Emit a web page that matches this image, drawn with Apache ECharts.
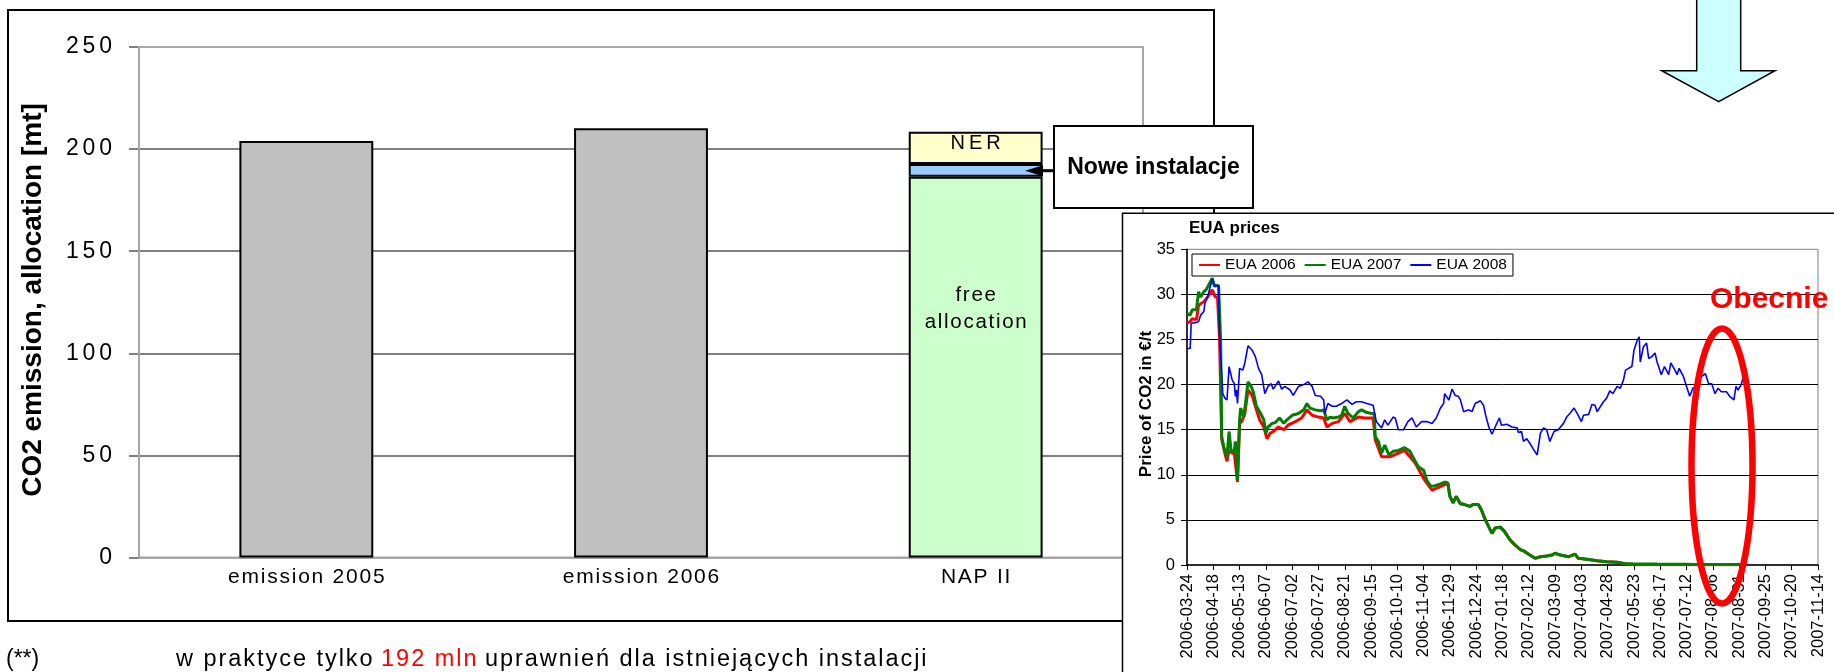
<!DOCTYPE html>
<html><head><meta charset="utf-8">
<script src="https://cdn.jsdelivr.net/npm/echarts@6/dist/echarts.min.js"></script>
<style>html,body{margin:0;padding:0;background:#fff;}#c{width:1834px;height:672px;}</style>
</head><body><div id="c"></div>
<script>
// ---------- main bar chart data ----------
const categories = ['emission 2005', 'emission 2006', 'NAP II'];
const emissionValues = [204, 210.2, '-'];
const freeAllocation = ['-', '-', 186.5];
const newInstallations = ['-', '-', 6.2];
const nerReserve = ['-', '-', 15.8];
const mainAxisTicks = [0, 50, 100, 150, 200, 250];

// ---------- EUA prices inset (x = days since 2006-03-24) ----------
const priceStartDate = '2006-03-24';
const dateTickLabels = ['2006-03-24','2006-04-18','2006-05-13','2006-06-07','2006-07-02','2006-07-27','2006-08-21','2006-09-15','2006-10-10','2006-11-04','2006-11-29','2006-12-24','2007-01-18','2007-02-12','2007-03-09','2007-04-03','2007-04-28','2007-05-23','2007-06-17','2007-07-12','2007-08-06','2007-08-31','2007-09-25','2007-10-20','2007-11-14'];
const priceTicks = [0, 5, 10, 15, 20, 25, 30, 35];

const eua2006Days = [0,3,5,9,11,16,19,24,27,29,31,33,36,38,40,43,45,48,50,52,55,58,62,65,69,73,76,79,82,87,92,96,103,109,114,119,125,130,133,138,144,150,155,163,169,177,179,185,193,201,207,217,226,233,241,245,248,250,253,256,260,264,269,272,277,280,283,287,290,293,298,302,307,312,317,321,326,331,336,342,347,350,355,363,369,372,380,390,399,409,415,421,450,490,526];
const eua2006Prices = [26.8,27.0,27.3,27.2,28.8,29.2,29.6,30.5,29.7,29.7,24.9,13.9,12.4,11.5,12.7,12.4,12.4,9.2,15.7,15.9,16.8,19.4,18.8,17.6,16.1,15.3,14.0,14.6,14.8,15.3,15.0,15.5,15.9,16.3,17.2,16.6,16.4,16.3,15.3,15.7,15.9,16.8,15.9,16.4,16.3,16.3,13.9,12.0,12.0,12.4,12.7,11.3,9.4,8.3,8.7,8.9,9.1,7.6,6.9,7.6,6.8,6.7,6.5,6.7,6.7,6.1,5.2,4.2,3.5,4.1,4.2,3.7,2.8,2.2,1.7,1.5,1.1,0.74,0.92,1.0,1.1,1.3,1.1,0.92,1.2,0.74,0.63,0.48,0.37,0.3,0.18,0.02,0.02,0.02,0.02];

const eua2007Days = [0,3,5,9,11,13,16,18,20,24,26,28,30,32,33,35,38,40,42,45,46,48,50,51,54,56,58,61,63,66,70,73,75,77,81,84,88,92,95,100,106,111,114,117,122,127,130,133,136,139,144,147,150,153,158,163,166,171,176,178,179,182,185,188,192,196,201,207,212,217,220,225,228,232,236,241,245,248,250,253,256,260,264,269,272,277,280,283,287,290,293,298,302,307,312,317,321,326,331,336,342,347,350,355,363,369,372,380,390,399,409,415,424,447,478,526];
const eua2007Prices = [27.9,27.7,28.3,28.3,30.3,29.7,30.3,30.5,30.9,31.8,30.9,31.0,31.0,24.9,14.2,13.1,12.0,14.8,12.6,12.7,13.7,9.4,16.1,17.4,16.4,18.3,20.3,19.8,19.2,17.6,16.8,16.1,14.6,15.3,15.7,15.8,16.3,15.7,16.1,16.6,16.8,17.2,17.9,17.4,17.2,17.1,17.2,16.1,16.4,16.3,16.4,16.6,17.6,16.8,16.3,17.0,17.2,16.9,16.8,16.8,14.2,13.7,12.4,13.3,12.2,12.6,12.7,13.0,12.6,11.5,10.9,10.5,9.4,8.7,8.8,9.0,9.2,9.1,7.6,6.9,7.6,6.8,6.7,6.5,6.7,6.7,6.1,5.2,4.2,3.5,4.1,4.2,3.7,2.8,2.2,1.7,1.5,1.1,0.74,0.92,1.0,1.1,1.3,1.1,0.92,1.2,0.74,0.63,0.48,0.37,0.3,0.18,0.15,0.1,0.07,0.05];

const eua2008Days = [0,3,4,9,11,13,16,17,20,24,27,30,31,34,36,38,40,43,45,46,47,48,50,53,55,58,62,65,68,71,74,77,80,82,87,90,93,98,101,106,111,115,119,122,127,130,131,134,138,142,147,152,157,161,166,171,177,180,185,188,191,196,198,201,206,210,214,218,223,228,233,237,241,244,245,249,252,255,258,260,263,268,271,274,279,282,284,287,290,293,297,299,304,309,314,315,318,320,323,326,329,333,336,339,342,345,349,353,358,361,364,368,371,375,377,382,385,388,390,396,399,402,405,409,412,415,417,423,425,428,430,431,434,437,439,442,445,447,451,454,458,460,464,466,468,472,475,478,481,485,489,493,496,499,502,505,508,513,516,520,522,524,527,529];
const eua2008Prices = [24.0,24.0,26.8,26.9,27.0,27.7,28.1,29.0,29.9,31.7,30.9,30.9,25.3,19.0,18.5,18.3,22.0,20.5,20.1,18.7,19.4,17.9,21.8,21.6,22.4,24.3,23.8,23.1,21.8,21.1,19.0,19.8,20.1,19.5,20.4,19.5,19.8,19.4,18.8,19.8,20.0,20.3,19.8,18.8,18.7,18.3,16.8,17.9,17.6,17.6,17.9,18.3,17.8,18.1,18.1,17.9,17.7,15.9,15.2,16.1,15.5,16.4,16.3,15.0,15.0,15.9,16.3,15.3,15.9,15.9,15.7,16.3,17.4,17.9,19.0,18.3,19.5,18.8,18.7,18.3,17.0,17.2,17.0,17.9,18.2,17.7,16.6,15.3,14.5,15.3,16.3,15.5,15.6,15.3,15.2,14.7,14.8,13.7,14.0,13.5,12.9,12.2,14.6,15.2,15.0,13.7,14.8,15.0,15.7,16.4,16.8,17.4,16.8,15.9,16.6,16.7,17.8,17.7,17.0,18.1,18.5,19.3,19.0,19.8,19.6,20.5,21.6,22.0,23.8,24.9,25.3,22.5,24.2,24.6,22.9,23.1,23.5,22.5,21.1,22.0,21.1,22.4,21.6,21.1,21.8,20.9,19.8,18.7,19.6,19.8,20.9,21.2,20.1,20.1,19.0,19.6,19.2,19.2,18.7,18.3,19.8,19.4,20.0,20.9];

// ---------- helpers ----------
const HAIR = '\u200A', THIN = '\u2009';
const FONT = '"Liberation Sans", Arial, Helvetica, sans-serif';
function spaced(s, sp) { return String(s).split('').join(sp || HAIR); }
function zip(xs, ys) { return xs.map((x, i) => [x, ys[i]]); }
const startMs = Date.parse(priceStartDate + 'T00:00:00Z');
function dayToLabel(d) {
  const s = new Date(startMs + Math.round(d) * 86400000).toISOString().slice(0, 10);
  return dateTickLabels.indexOf(s) >= 0 ? s : '';
}

const chart = echarts.init(document.getElementById('c'), null, {renderer: 'canvas', devicePixelRatio: 1});

const option = {
  animation: false,
  backgroundColor: '#ffffff',
  textStyle: {fontFamily: FONT, color: '#000'},
  grid: [
    {left: 139, top: 47, width: 1004, height: 510.5, show: true, borderColor: '#a6a6a6', borderWidth: 2, backgroundColor: 'transparent', z: 2},
    {left: 1187, top: 249.3, width: 631, height: 315.7, show: true, borderColor: '#808080', borderWidth: 1, backgroundColor: 'transparent', z: 4}
  ],
  legend: {
    data: ['EUA 2006', 'EUA 2007', 'EUA 2008'],
    left: 1192, top: 254, orient: 'horizontal',
    padding: [3, 6, 3, 6], itemGap: 8, itemWidth: 21, itemHeight: 14,
    borderColor: '#000', borderWidth: 1, backgroundColor: '#fff',
    itemStyle: {opacity: 0, borderWidth: 0},
    textStyle: {fontSize: 15.5, color: '#000', fontFamily: FONT},
    z: 6
  },
  xAxis: [
    {type: 'category', gridIndex: 0, data: categories,
      axisLine: {lineStyle: {color: '#a6a6a6', width: 2}},
      axisTick: {show: false},
      axisLabel: {fontSize: 21, color: '#000', margin: 9, interval: 0, formatter: v => spaced(v, HAIR)},
      splitLine: {show: false}},
    {type: 'value', gridIndex: 1, min: 0, max: 600, interval: 25, z: 4,
      axisLine: {onZero: false, lineStyle: {color: '#000', width: 1.5}},
      axisTick: {show: true, length: 5, lineStyle: {color: '#000', width: 1}},
      axisLabel: {rotate: 90, fontSize: 16.5, color: '#000', margin: 9, formatter: dayToLabel, showMinLabel: true, showMaxLabel: true},
      splitLine: {show: false}}
  ],
  yAxis: [
    {type: 'value', gridIndex: 0, min: mainAxisTicks[0], max: mainAxisTicks[mainAxisTicks.length - 1], interval: mainAxisTicks[1] - mainAxisTicks[0],
      axisLine: {show: true, lineStyle: {color: '#808080', width: 2}},
      axisTick: {show: true, length: 10, lineStyle: {color: '#808080', width: 2}},
      axisLabel: {fontSize: 23, color: '#000', margin: 27, formatter: v => spaced(v, HAIR + HAIR)},
      splitLine: {show: true, showMinLine: false, showMaxLine: false, lineStyle: {color: '#808080', width: 2}}},
    {type: 'value', gridIndex: 1, min: priceTicks[0], max: priceTicks[priceTicks.length - 1], interval: priceTicks[1] - priceTicks[0], z: 4,
      axisLine: {show: true, lineStyle: {color: '#000', width: 1.5}},
      axisTick: {show: true, length: 6, lineStyle: {color: '#000', width: 1}},
      axisLabel: {fontSize: 16.5, color: '#000', margin: 12},
      splitLine: {show: true, showMinLine: false, showMaxLine: false, lineStyle: {color: '#000', width: 1}}}
  ],
  series: [
    {type: 'bar', name: 'emission', xAxisIndex: 0, yAxisIndex: 0, stack: 'nap', data: emissionValues,
      barCategoryGap: '60%', itemStyle: {color: '#C0C0C0', borderColor: '#000', borderWidth: 2}},
    {type: 'bar', name: 'free allocation', xAxisIndex: 0, yAxisIndex: 0, stack: 'nap', data: freeAllocation,
      itemStyle: {color: '#CCFFCC', borderColor: '#000', borderWidth: 2},
      label: {show: true, formatter: spaced('free') + '\n' + spaced('allocation'), position: ['50%', 105], align: 'center', verticalAlign: 'top', fontSize: 20.5, lineHeight: 27, color: '#000', fontFamily: FONT}},
    {type: 'bar', name: 'Nowe instalacje', xAxisIndex: 0, yAxisIndex: 0, stack: 'nap', data: newInstallations,
      itemStyle: {color: '#99CCFF', borderColor: '#000', borderWidth: 2}},
    {type: 'bar', name: 'NER', xAxisIndex: 0, yAxisIndex: 0, stack: 'nap', data: nerReserve,
      itemStyle: {color: '#FFFFCC', borderColor: '#000', borderWidth: 2},
      label: {show: true, formatter: spaced('NER', THIN), position: 'insideTop', distance: 2, fontSize: 20, color: '#000', fontFamily: FONT}},
    {type: 'line', name: 'EUA 2006', xAxisIndex: 1, yAxisIndex: 1, data: zip(eua2006Days, eua2006Prices),
      symbol: 'none', showSymbol: false, z: 5, color: '#FF0000', lineStyle: {color: '#FF0000', width: 3}},
    {type: 'line', name: 'EUA 2007', xAxisIndex: 1, yAxisIndex: 1, data: zip(eua2007Days, eua2007Prices),
      symbol: 'none', showSymbol: false, z: 5, color: '#008000', lineStyle: {color: '#008000', width: 3}},
    {type: 'line', name: 'EUA 2008', xAxisIndex: 1, yAxisIndex: 1, data: zip(eua2008Days, eua2008Prices),
      symbol: 'none', showSymbol: false, z: 5, color: '#0000FF', lineStyle: {color: '#0000FF', width: 1.6}}
  ],
  graphic: [
    {type: 'rect', z: 1, silent: true, shape: {x: 8, y: 10, width: 1206, height: 611}, style: {fill: 'none', stroke: '#000', lineWidth: 2}},
    {type: 'polygon', z: 1, silent: true, shape: {points: [[1696.7, -3], [1740.7, -3], [1740.7, 70.7], [1775, 70.7], [1718.7, 101.7], [1661.7, 70.7], [1696.7, 70.7]]}, style: {fill: '#CCFFFF', stroke: '#000', lineWidth: 1.5}},
    {type: 'rect', z: 3, silent: true, shape: {x: 1122.5, y: 213.3, width: 730, height: 480}, style: {fill: '#fff', stroke: '#000', lineWidth: 1.5}},
    {type: 'rect', z: 6, silent: true, shape: {x: 1054, y: 126, width: 199, height: 82}, style: {fill: '#fff', stroke: '#000', lineWidth: 2}},
    {type: 'text', z: 7, silent: true, x: 1153.5, y: 168, style: {text: 'Nowe instalacje', fontSize: 23, fontWeight: 'bold', fontFamily: FONT, fill: '#000', align: 'center', verticalAlign: 'middle', textAlign: 'center', textVerticalAlign: 'middle'}},
    {type: 'line', z: 6, silent: true, shape: {x1: 1054, y1: 170.7, x2: 1040, y2: 170.7}, style: {stroke: '#000', lineWidth: 3}},
    {type: 'polygon', z: 6, silent: true, shape: {points: [[1025, 170.7], [1043, 165.2], [1043, 176.2]]}, style: {fill: '#000'}},
    {type: 'text', z: 5, silent: true, x: 1189, y: 228.5, style: {text: 'EUA prices', fontSize: 17, fontWeight: 'bold', fontFamily: FONT, fill: '#000', align: 'left', verticalAlign: 'middle', textAlign: 'left', textVerticalAlign: 'middle'}},
    {type: 'text', z: 5, silent: true, x: 1146, y: 404, rotation: Math.PI / 2, style: {text: 'Price of CO2 in €/t', fontSize: 17, fontWeight: 'bold', fontFamily: FONT, fill: '#000', align: 'center', verticalAlign: 'middle', textAlign: 'center', textVerticalAlign: 'middle'}},
    {type: 'text', z: 5, silent: true, x: 33, y: 300, rotation: Math.PI / 2, style: {text: 'CO2 emission, allocation [mt]', fontSize: 28, fontWeight: 'bold', fontFamily: FONT, fill: '#000', align: 'center', verticalAlign: 'middle', textAlign: 'center', textVerticalAlign: 'middle'}},
    {type: 'ellipse', z: 8, silent: true, shape: {cx: 1722, cy: 466, rx: 30.5, ry: 137.6}, style: {fill: 'none', stroke: '#FF0000', lineWidth: 6.5}},
    {type: 'text', z: 8, silent: true, x: 1710, y: 300, style: {text: 'Obecnie', fontSize: 30, fontWeight: 'bold', fontFamily: FONT, fill: '#FF0000', align: 'left', verticalAlign: 'middle', textAlign: 'left', textVerticalAlign: 'middle'}},
    {type: 'text', z: 5, silent: true, x: 6, y: 659.5, style: {text: '(**)', fontSize: 23, fontFamily: FONT, fill: '#000', align: 'left', verticalAlign: 'middle', textAlign: 'left', textVerticalAlign: 'middle'}},
    {type: 'text', z: 5, silent: true, x: 176, y: 659.5, style: {
      text: '{a|' + spaced('w praktyce tylko ') + '}{r|' + spaced('192 mln') + '}{a|' + spaced(' uprawnień dla istniejących instalacji') + '}',
      align: 'left', verticalAlign: 'middle', textAlign: 'left', textVerticalAlign: 'middle',
      fontSize: 23.5, fontFamily: FONT,
      rich: {a: {fontSize: 23.5, fontFamily: FONT, fill: '#000', color: '#000'}, r: {fontSize: 23.5, fontFamily: FONT, fill: '#FF0000', color: '#FF0000'}}}}
  ]
};
chart.setOption(option);
</script>
</body></html>
